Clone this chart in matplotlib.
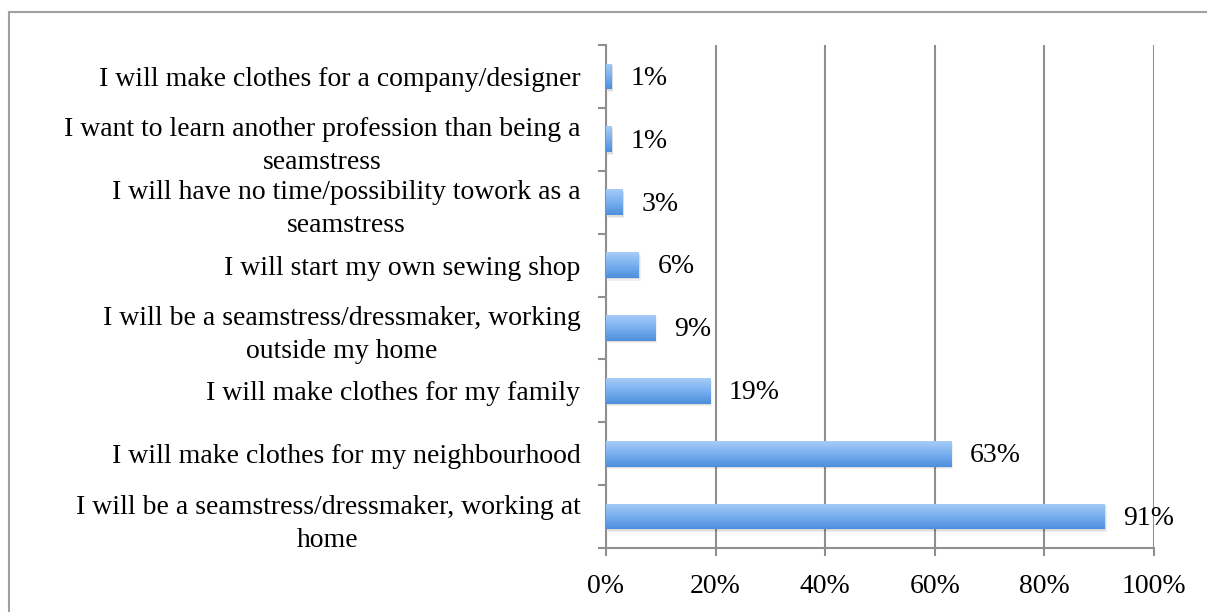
import matplotlib
matplotlib.use("Agg")
import matplotlib.pyplot as plt
import numpy as np
from matplotlib.patches import Rectangle
from matplotlib.colors import LinearSegmentedColormap

categories = [
    "I will be a seamstress/dressmaker, working at\nhome",
    "I will make clothes for my neighbourhood",
    "I will make clothes for my family",
    "I will be a seamstress/dressmaker, working\noutside my home",
    "I will start my own sewing shop",
    "I will have no time/possibility towork as a\nseamstress",
    "I want to learn another profession than being a\nseamstress",
    "I will make clothes for a company/designer",
]
values = [91, 63, 19, 9, 6, 3, 1, 1]
value_labels = ["91%", "63%", "19%", "9%", "6%", "3%", "1%", "1%"]
xticks = [0, 20, 40, 60, 80, 100]
xtick_labels = ["0%", "20%", "40%", "60%", "80%", "100%"]

plt.rcParams['font.family'] = ['Liberation Serif', 'DejaVu Serif']

W, H = 1207, 612
fig = plt.figure(figsize=(W / 100, H / 100), dpi=100)
ax = fig.add_axes([606 / W, (H - 548) / H, (1154 - 606) / W, (548 - 45) / H])

grid_col = "#8f8f8f"
fs = 20
y = np.arange(len(categories))
bh = 0.41
bars = ax.barh(y, values, height=bh, color="#6fa6e8", edgecolor="none", zorder=3)

cmap = LinearSegmentedColormap.from_list("g", ["#4e8edb", "#78b0f0", "#a6cbf7"])
grad = np.linspace(0, 1, 64).reshape(-1, 1)
for b in bars:
    x0, y0 = b.get_x(), b.get_y()
    w, h = b.get_width(), b.get_height()
    # soft shadow
    for k, a in [(0.35, 0.06), (0.2, 0.08)]:
        ax.add_patch(Rectangle((x0 + k, y0 - k * 0.12), w, h, facecolor="#000000",
                               alpha=a, edgecolor="none", zorder=2))
    im = ax.imshow(grad, cmap=cmap, aspect="auto", origin="lower",
                   extent=(x0, x0 + w, y0, y0 + h), zorder=4)
    im.set_clip_path(b)

for yi, v, lab in zip(y, values, value_labels):
    ax.text(v + 3.4, yi - 0.03, lab, va="center", ha="left", fontsize=fs, zorder=5)

ax.set_xlim(0, 100)
ax.set_ylim(-0.5, len(categories) - 0.5)
ax.set_xticks(xticks)
ax.set_xticklabels(xtick_labels, fontsize=fs)
ax.set_yticks(y)
ax.set_yticklabels(categories, fontsize=fs, multialignment="center", linespacing=1.42)
ax.set_yticks(np.arange(-0.5, len(categories), 1), minor=True)
ax.tick_params(axis="y", which="major", length=0, pad=18.5)
ax.tick_params(axis="y", which="minor", length=6, width=1.5, color=grid_col)
ax.tick_params(axis="x", length=6, width=1.5, color=grid_col, pad=12.5)

ax.grid(axis="x", color=grid_col, linewidth=1.5, zorder=0)
ax.set_axisbelow(True)
for s in ["top", "right"]:
    ax.spines[s].set_visible(False)
for s in ["left", "bottom"]:
    ax.spines[s].set_color(grid_col)
    ax.spines[s].set_linewidth(1.5)

# outer frame
fig.patches.append(Rectangle((9 / W, -0.1), 1.2, (H - 12) / H + 0.1,
                             transform=fig.transFigure, fill=False,
                             edgecolor="#a0a0a0", linewidth=1.5))

fig.savefig("out.png", dpi=100)
